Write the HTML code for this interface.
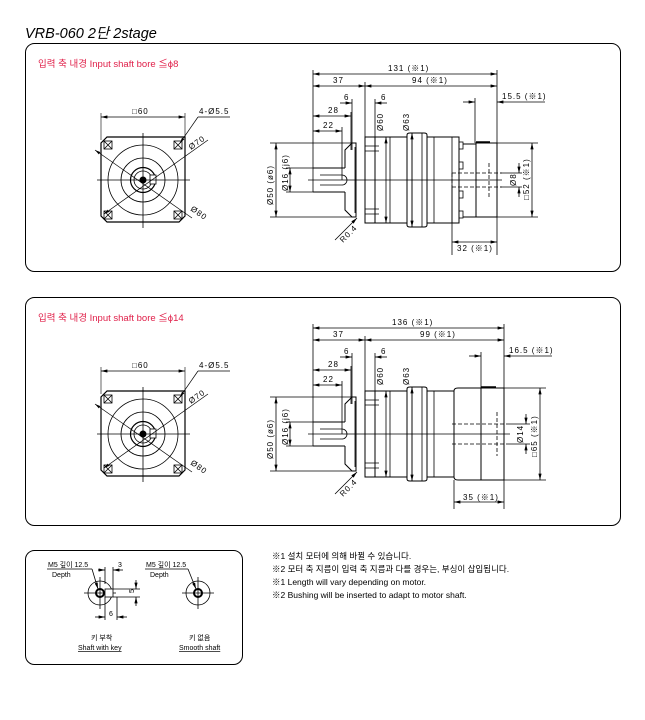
<!DOCTYPE html>
<html><head><meta charset="utf-8"><style>
body{margin:0;background:#fff;width:645px;height:720px;overflow:hidden}
svg{display:block}
text{font-family:"Liberation Sans","Noto Sans CJK KR",sans-serif;fill:#000}
.d{font-size:8px;letter-spacing:1px}
.r{fill:#e0204a;font-size:9.5px}
</style></head><body>
<svg width="645" height="720" viewBox="0 0 645 720" xmlns="http://www.w3.org/2000/svg">
<defs>
<marker id="a" viewBox="0 0 8 4" refX="8" refY="2" markerWidth="8" markerHeight="4" orient="auto-start-reverse"><path d="M0,0L8,2L0,4z" fill="#000"/></marker>
<g id="front">
 <line x1="101" y1="117" x2="185" y2="117" stroke="#000" stroke-width=".8" marker-start="url(#a)" marker-end="url(#a)"/>
 <line x1="101" y1="113" x2="101" y2="140" stroke="#000" stroke-width=".6"/>
 <line x1="185" y1="113" x2="185" y2="140" stroke="#000" stroke-width=".6"/>
 <text x="132" y="114" class="d">□60</text>
 <path d="M107,137H185V216L179,222H107L101,216V143Z" fill="none" stroke="#000" stroke-width="1.2"/>
 <circle cx="143" cy="180" r="35" fill="none" stroke="#000" stroke-width=".8"/>
 <circle cx="143" cy="180" r="22" fill="none" stroke="#000" stroke-width=".8"/>
 <circle cx="143" cy="180" r="12.5" fill="none" stroke="#000" stroke-width="1.2"/>
 <circle cx="143" cy="180" r="9" fill="none" stroke="#000" stroke-width=".8"/>
 <circle cx="143" cy="180" r="3.5" fill="#000"/>
 <rect x="150" y="175" width="6" height="9" fill="#fff" stroke="#000" stroke-width=".8"/>
 <line x1="97" y1="180" x2="190" y2="180" stroke="#000" stroke-width=".8"/>
 <line x1="143" y1="133" x2="143" y2="228" stroke="#000" stroke-width=".8"/>
 <g fill="none" stroke="#000" stroke-width=".8">
  <rect x="104" y="141" width="8" height="8"/><path d="M104,141l8,8M112,141l-8,8"/>
  <rect x="174" y="141" width="8" height="8"/><path d="M174,141l8,8M182,141l-8,8"/>
  <rect x="104" y="211" width="8" height="8"/><path d="M104,211l8,8M112,211l-8,8"/>
  <rect x="174" y="211" width="8" height="8"/><path d="M174,211l8,8M182,211l-8,8"/>
 </g>
 <line x1="95" y1="150" x2="192" y2="218" stroke="#000" stroke-width=".7" marker-start="url(#a)"/>
 <line x1="104" y1="214" x2="208" y2="140" stroke="#000" stroke-width=".7" marker-start="url(#a)"/>
 <line x1="180" y1="143" x2="198" y2="117" stroke="#000" stroke-width=".7" marker-start="url(#a)"/>
 <line x1="198" y1="117" x2="230" y2="117" stroke="#000" stroke-width=".7"/>
 <text x="199" y="114" class="d">4-Ø5.5</text>
 <text x="0" y="0" class="d" transform="translate(191,150) rotate(-35)">Ø70</text>
 <text x="0" y="0" class="d" transform="translate(190,210) rotate(35)">Ø80</text>
</g>
</defs>

<text x="25" y="38" style="font-size:14.5px;font-style:italic">VRB-060  2단  2stage</text>
<rect x="25.5" y="43.5" width="595" height="228" rx="9" fill="none" stroke="#000" stroke-width="1"/>
<rect x="25.5" y="297.5" width="595" height="228" rx="9" fill="none" stroke="#000" stroke-width="1"/>
<rect x="25.5" y="550.5" width="217" height="114" rx="9" fill="none" stroke="#000" stroke-width="1"/>

<text x="38" y="67" class="r">입력 축 내경  Input shaft bore  ≦ϕ8</text>
<text x="38" y="321" class="r">입력 축 내경  Input shaft bore  ≦ϕ14</text>

<use href="#front"/>
<use href="#front" transform="translate(0,254)"/>

<!-- SIDE VIEW 1 -->
<g stroke="#000" fill="none" stroke-width=".8">
 <line x1="313" y1="70" x2="313" y2="192"/>
 <line x1="497" y1="70" x2="497" y2="255"/>
 <line x1="365" y1="82" x2="365" y2="137"/>
 <line x1="313" y1="74" x2="497" y2="74" marker-start="url(#a)" marker-end="url(#a)"/>
 <line x1="313" y1="86" x2="365" y2="86" marker-start="url(#a)" marker-end="url(#a)"/>
 <line x1="365" y1="86" x2="497" y2="86" marker-start="url(#a)" marker-end="url(#a)"/>
 <line x1="340" y1="103" x2="352" y2="103" marker-end="url(#a)"/>
 <line x1="375" y1="103" x2="387" y2="103" marker-start="url(#a)"/>
 <line x1="352" y1="99" x2="352" y2="150"/><line x1="375" y1="99" x2="375" y2="137"/>
 <line x1="463" y1="102" x2="475" y2="102" marker-end="url(#a)"/>
 <line x1="497" y1="102" x2="545" y2="102" marker-start="url(#a)"/>
 <line x1="475" y1="98" x2="475" y2="143"/>
 <line x1="313" y1="116" x2="351" y2="116" marker-start="url(#a)" marker-end="url(#a)"/>
 <line x1="351" y1="112" x2="351" y2="150"/>
 <line x1="313" y1="131" x2="342" y2="131" marker-start="url(#a)" marker-end="url(#a)"/>
 <line x1="342" y1="127" x2="342" y2="180"/>
 <path d="M313,168H345M313,192H345" stroke-width="1"/>
 <path d="M320,175H342a5,5 0 0 1 0,10H320"/>
 <path d="M345,168V150L352,143H356V217H352L345,210V192" stroke-width="1"/>
 <line x1="355" y1="147" x2="355" y2="213"/>
 <rect x="365" y="137" width="10" height="86" stroke-width="1"/>
 <path d="M365,146H379M365,151H379M365,209H379M365,214H379"/>
 <path d="M375,137H407V223H375" stroke-width="1"/>
 <path d="M407,135Q407,133 410,133H424Q427,133 427,135V225Q427,227 424,227H410Q407,227 407,225Z" stroke-width="1"/>
 <path d="M427,137H459V223H427" stroke-width="1"/>
 <line x1="390" y1="137" x2="390" y2="223"/><line x1="412" y1="133" x2="412" y2="227"/><line x1="422" y1="133" x2="422" y2="227"/>
 <line x1="434" y1="137" x2="434" y2="223"/><line x1="452" y1="137" x2="452" y2="223"/>
 <rect x="459" y="142" width="4" height="7"/><rect x="459" y="162" width="4" height="7"/>
 <rect x="459" y="191" width="4" height="7"/><rect x="459" y="211" width="4" height="7"/>
 <path d="M463,144H476M463,217H476" stroke-width="1"/>
 <rect x="476" y="143" width="21" height="74" stroke-width="1"/>
 <line x1="476" y1="142" x2="490" y2="142" stroke-width="1.5"/>
 <path d="M452,173H502M452,187H502M452,173V187" stroke-dasharray="4,2"/>
 <line x1="489" y1="163" x2="489" y2="198" stroke-dasharray="4,2"/>
 <line x1="308" y1="180" x2="502" y2="180"/>
 <path d="M270,143H352M270,217H352M286,168H313M286,192H313"/>
 <line x1="276" y1="143" x2="276" y2="217" marker-start="url(#a)" marker-end="url(#a)"/>
 <line x1="290" y1="168" x2="290" y2="192" marker-start="url(#a)" marker-end="url(#a)"/>
 <line x1="386" y1="137" x2="386" y2="223" marker-start="url(#a)" marker-end="url(#a)"/>
 <line x1="412" y1="133" x2="412" y2="227" marker-start="url(#a)" marker-end="url(#a)"/>
 <path d="M497,143H538M497,217H538M500,173H522M500,187H522"/>
 <line x1="532" y1="143" x2="532" y2="217" marker-start="url(#a)" marker-end="url(#a)"/>
 <line x1="519" y1="163" x2="519" y2="173" marker-end="url(#a)"/>
 <line x1="519" y1="197" x2="519" y2="187" marker-end="url(#a)"/>
 <line x1="452" y1="187" x2="452" y2="255"/>
 <line x1="452" y1="242" x2="497" y2="242" marker-start="url(#a)" marker-end="url(#a)"/>
 <line x1="335" y1="240" x2="357" y2="218" marker-end="url(#a)"/>
</g>
 <text x="388" y="71" class="d">131 (※1)</text>
 <text x="333" y="83" class="d">37</text>
 <text x="412" y="83" class="d">94 (※1)</text>
 <text x="344" y="100" class="d">6</text><text x="381" y="100" class="d">6</text>
 <text x="502" y="99" class="d">15.5 (※1)</text>
 <text x="328" y="113" class="d">28</text>
 <text x="323" y="128" class="d">22</text>
 <text x="457" y="251" class="d">32 (※1)</text>
 <text class="d" transform="translate(273,205) rotate(-90)">Ø50 (ø6)</text>
 <text class="d" transform="translate(288,191) rotate(-90)">Ø16 (j6)</text>
 <text class="d" transform="translate(383,131) rotate(-90)">Ø60</text>
 <text class="d" transform="translate(409,131) rotate(-90)">Ø63</text>
 <text class="d" transform="translate(529,200) rotate(-90)">□52 (※1)</text>
 <text class="d" transform="translate(516,186) rotate(-90)">Ø8</text>
 <text class="d" transform="translate(343,243) rotate(-45)">R0.4</text>

<!-- SIDE VIEW 2 -->
<g transform="translate(0,254)">
<g stroke="#000" fill="none" stroke-width=".8">
 <line x1="313" y1="70" x2="313" y2="192"/>
 <line x1="504" y1="70" x2="504" y2="255"/>
 <line x1="365" y1="82" x2="365" y2="137"/>
 <line x1="313" y1="74" x2="504" y2="74" marker-start="url(#a)" marker-end="url(#a)"/>
 <line x1="313" y1="86" x2="365" y2="86" marker-start="url(#a)" marker-end="url(#a)"/>
 <line x1="365" y1="86" x2="504" y2="86" marker-start="url(#a)" marker-end="url(#a)"/>
 <line x1="340" y1="103" x2="352" y2="103" marker-end="url(#a)"/>
 <line x1="375" y1="103" x2="387" y2="103" marker-start="url(#a)"/>
 <line x1="352" y1="99" x2="352" y2="150"/><line x1="375" y1="99" x2="375" y2="137"/>
 <line x1="469" y1="102" x2="481" y2="102" marker-end="url(#a)"/>
 <line x1="504" y1="102" x2="552" y2="102" marker-start="url(#a)"/>
 <line x1="481" y1="98" x2="481" y2="134"/>
 <line x1="313" y1="116" x2="351" y2="116" marker-start="url(#a)" marker-end="url(#a)"/>
 <line x1="351" y1="112" x2="351" y2="150"/>
 <line x1="313" y1="131" x2="342" y2="131" marker-start="url(#a)" marker-end="url(#a)"/>
 <line x1="342" y1="127" x2="342" y2="180"/>
 <path d="M313,168H345M313,192H345" stroke-width="1"/>
 <path d="M320,175H342a5,5 0 0 1 0,10H320"/>
 <path d="M345,168V150L352,143H356V217H352L345,210V192" stroke-width="1"/>
 <line x1="355" y1="147" x2="355" y2="213"/>
 <rect x="365" y="137" width="10" height="86" stroke-width="1"/>
 <path d="M365,146H379M365,151H379M365,209H379M365,214H379"/>
 <path d="M375,137H407V223H375" stroke-width="1"/>
 <path d="M407,135Q407,133 410,133H424Q427,133 427,135V225Q427,227 424,227H410Q407,227 407,225Z" stroke-width="1"/>
 <path d="M427,137H454V223H427" stroke-width="1"/>
 <line x1="390" y1="137" x2="390" y2="223"/><line x1="412" y1="133" x2="412" y2="227"/><line x1="422" y1="133" x2="422" y2="227"/>
 <line x1="434" y1="137" x2="434" y2="223"/>
 <path d="M454,137Q454,134 458,134H481V226H458Q454,226 454,223Z" stroke-width="1"/>
 <rect x="481" y="134" width="23" height="92" stroke-width="1"/>
 <line x1="481" y1="133" x2="496" y2="133" stroke-width="1.5"/>
 <path d="M452,170H510M452,190H510" stroke-dasharray="4,2"/>
 <line x1="497" y1="158" x2="497" y2="202" stroke-dasharray="4,2"/>
 <line x1="308" y1="180" x2="510" y2="180"/>
 <path d="M270,143H352M270,217H352M286,168H313M286,192H313"/>
 <line x1="276" y1="143" x2="276" y2="217" marker-start="url(#a)" marker-end="url(#a)"/>
 <line x1="290" y1="168" x2="290" y2="192" marker-start="url(#a)" marker-end="url(#a)"/>
 <line x1="386" y1="137" x2="386" y2="223" marker-start="url(#a)" marker-end="url(#a)"/>
 <line x1="412" y1="133" x2="412" y2="227" marker-start="url(#a)" marker-end="url(#a)"/>
 <path d="M504,134H546M504,226H546M510,170H530M510,190H530"/>
 <line x1="540" y1="134" x2="540" y2="226" marker-start="url(#a)" marker-end="url(#a)"/>
 <line x1="526" y1="160" x2="526" y2="170" marker-end="url(#a)"/>
 <line x1="526" y1="200" x2="526" y2="190" marker-end="url(#a)"/>
 <line x1="454" y1="226" x2="454" y2="255"/>
 <line x1="454" y1="248" x2="504" y2="248" marker-start="url(#a)" marker-end="url(#a)"/>
 <line x1="335" y1="240" x2="357" y2="218" marker-end="url(#a)"/>
</g>
 <text x="392" y="71" class="d">136 (※1)</text>
 <text x="333" y="83" class="d">37</text>
 <text x="420" y="83" class="d">99 (※1)</text>
 <text x="344" y="100" class="d">6</text><text x="381" y="100" class="d">6</text>
 <text x="509" y="99" class="d">16.5 (※1)</text>
 <text x="328" y="113" class="d">28</text>
 <text x="323" y="128" class="d">22</text>
 <text x="463" y="246" class="d">35 (※1)</text>
 <text class="d" transform="translate(273,205) rotate(-90)">Ø50 (ø6)</text>
 <text class="d" transform="translate(288,191) rotate(-90)">Ø16 (j6)</text>
 <text class="d" transform="translate(383,131) rotate(-90)">Ø60</text>
 <text class="d" transform="translate(409,131) rotate(-90)">Ø63</text>
 <text class="d" transform="translate(537,203) rotate(-90)">□65 (※1)</text>
 <text class="d" transform="translate(523,189) rotate(-90)">Ø14</text>
 <text class="d" transform="translate(343,243) rotate(-45)">R0.4</text>
</g>

<!-- small panel -->
<g stroke="#000" fill="none" stroke-width=".8">
 <circle cx="100" cy="593" r="12"/><circle cx="100" cy="593" r="4" stroke-width="2"/>
 <path d="M84,593H116M100,577V609"/>
 <rect x="105" y="589" width="8" height="8" fill="#fff"/>
 <path d="M47,569H92"/><line x1="92" y1="569" x2="98" y2="589" marker-end="url(#a)"/>
 <path d="M105,567V584M113,567V589M113,589H140M113,597H140M105,597V620M117,597V620"/>
 <line x1="98" y1="570" x2="105" y2="570" marker-end="url(#a)"/>
 <line x1="123" y1="570" x2="113" y2="570" marker-end="url(#a)"/>
 <line x1="136" y1="580" x2="136" y2="589" marker-end="url(#a)"/>
 <line x1="136" y1="606" x2="136" y2="597" marker-end="url(#a)"/>
 <line x1="95" y1="617" x2="105" y2="617" marker-end="url(#a)"/>
 <line x1="127" y1="617" x2="117" y2="617" marker-end="url(#a)"/>
 <circle cx="198" cy="593" r="12"/><circle cx="198" cy="593" r="4" stroke-width="2"/>
 <path d="M182,593H214M198,577V609"/>
 <path d="M145,569H188"/><line x1="188" y1="569" x2="196" y2="589" marker-end="url(#a)"/>
</g>
<g style="font-size:7px">
 <text x="48" y="567">M5 깊이 12.5</text><text x="52" y="577">Depth</text>
 <text x="146" y="567">M5 깊이 12.5</text><text x="150" y="577">Depth</text>
 <text x="118" y="567">3</text>
 <text x="131" y="596" transform="rotate(-90 131 593)">5</text>
 <text x="109" y="616">6</text>
 <text x="91" y="640">키 부착</text><text x="78" y="650" text-decoration="underline">Shaft with key</text>
 <text x="189" y="640">키 없음</text><text x="179" y="650" text-decoration="underline">Smooth shaft</text>
</g>
<g style="font-size:8.5px">
 <text x="272" y="559">※1  설치 모터에 의해 바뀔 수 있습니다.</text>
 <text x="272" y="572">※2  모터 축 지름이 입력 축 지름과 다를 경우는, 부싱이 삽입됩니다.</text>
 <text x="272" y="585">※1  Length will vary depending on motor.</text>
 <text x="272" y="598">※2  Bushing will be inserted to adapt to motor shaft.</text>
</g>
</svg>
</body></html>
